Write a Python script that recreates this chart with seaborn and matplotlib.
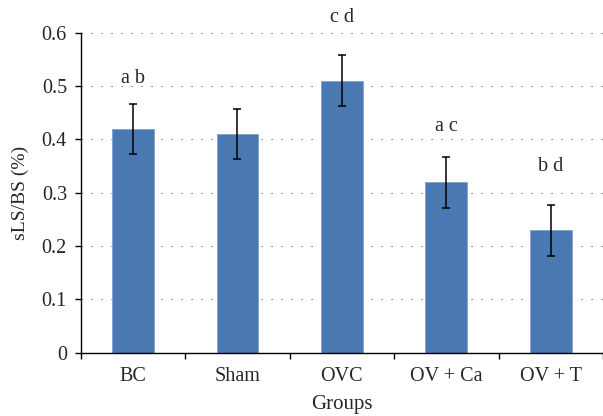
import matplotlib
matplotlib.use("Agg")
import matplotlib.pyplot as plt
import numpy as np
import pandas as pd
import seaborn as sns

# values
groups = ["BC", "Sham", "OVC", "OV + Ca", "OV + T"]
values = [0.42, 0.41, 0.51, 0.32, 0.23]
errors = [0.047, 0.047, 0.048, 0.048, 0.048]
letters = ["a b", "", "c d", "a c", "b d"]

df = pd.DataFrame({"Groups": groups, "value": values})

sns.set_style("white")
plt.rcParams['font.family'] = ['Liberation Serif', 'DejaVu Serif']

fig = plt.figure(figsize=(6.03, 4.16), dpi=100)
ax = fig.add_axes([0.134, 0.152, 0.866, 0.769])

sns.barplot(data=df, x="Groups", y="value", color="#4a78b0", saturation=1,
            width=0.4, errorbar=None, edgecolor="#7fa2cf", linewidth=0.6,
            ax=ax, zorder=2)

xs = np.arange(len(groups))
ax.errorbar(xs, values, yerr=errors, fmt="none", ecolor="black",
            elinewidth=1.1, capsize=3.2, capthick=1.1, zorder=3)

# gap between error bar top and letter centre (data units)
letter_gap = [0.048, 0.0, 0.070, 0.057, 0.072]
for x, v, e, t, g in zip(xs, values, errors, letters, letter_gap):
    if t:
        ax.text(x, v + e + g, t, ha="center", va="center", fontsize=14.5,
                clip_on=False)

ax.set_ylim(0, 0.6)
ax.set_xlim(-0.5, len(groups) - 0.5)
ax.set_yticks([0, 0.1, 0.2, 0.3, 0.4, 0.5, 0.6])
ax.set_yticklabels(["0", "0.1", "0.2", "0.3", "0.4", "0.5", "0.6"])
ax.set_xticks(xs)
ax.set_xticklabels(groups)
ax.set_xticks(np.arange(len(groups) + 1) - 0.5, minor=True)

ax.yaxis.grid(True, color="#555555", linestyle=(0, (1, 8)), linewidth=0.8)
ax.set_axisbelow(True)

sns.despine(ax=ax, top=True, right=True)
ax.spines["left"].set_color("black")
ax.spines["bottom"].set_color("black")
ax.spines["left"].set_linewidth(1.0)
ax.spines["bottom"].set_linewidth(1.0)

ax.tick_params(axis="y", which="major", direction="out", length=4, width=1,
               color="black", left=True, labelsize=14.5, pad=6)
ax.tick_params(axis="x", which="major", length=0, labelsize=14.5, pad=10)
ax.tick_params(axis="x", which="minor", direction="out", length=4, width=1,
               color="black", bottom=True)

ax.set_xlabel("Groups", fontsize=15, labelpad=7)
ax.set_ylabel("sLS/BS (%)", fontsize=14, labelpad=9)

fig.savefig("out.png", dpi=100)
